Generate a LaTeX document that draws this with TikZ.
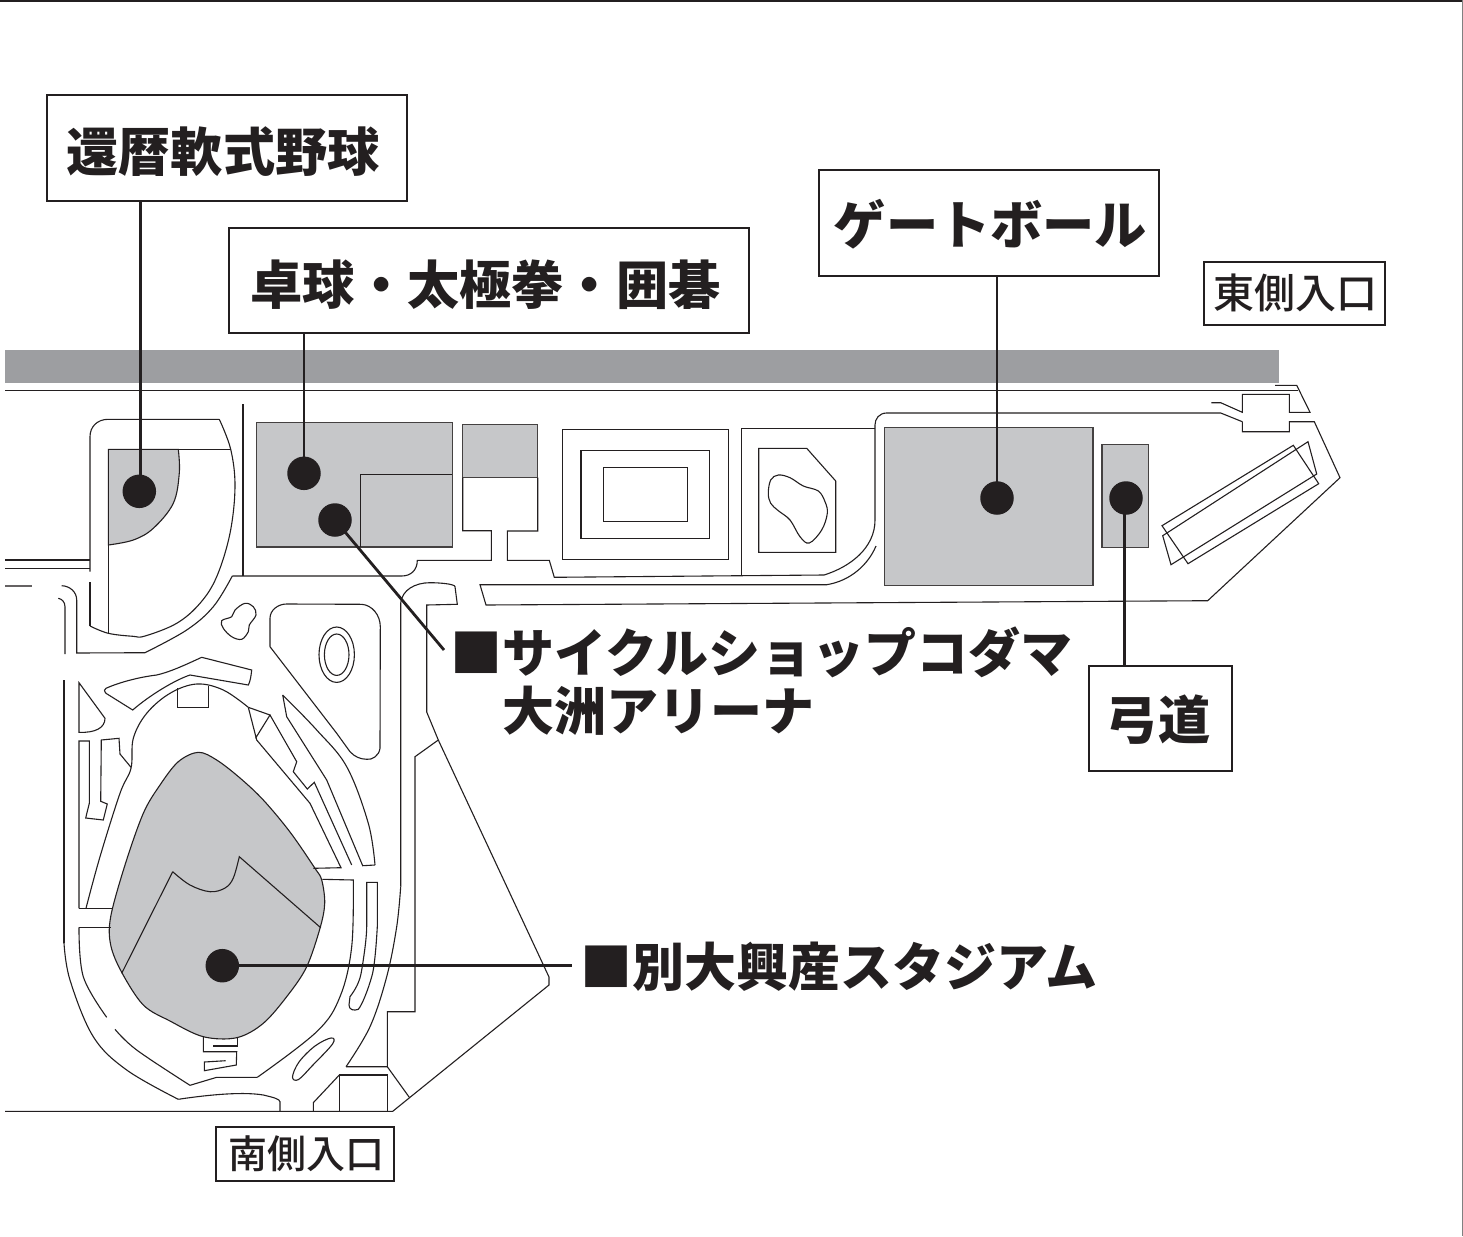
\documentclass[tikz,border=0pt]{standalone}
\usepackage{fontspec}
\newfontfamily\jp{Noto Sans CJK JP}
\newfontfamily\jpm{Noto Sans CJK JP Medium}
\definecolor{ink}{HTML}{231F20}
\definecolor{band}{HTML}{9D9EA1}
\definecolor{area}{HTML}{C6C7C9}
\newcommand{\nudged}[2]{\hspace*{#1}#2}
\tikzset{
  plan/.style={draw=ink,line width=1.1pt,line join=miter},
  zone/.style={draw=ink!85,line width=1.3pt,fill=area},
  dotmark/.style={circle,fill=ink,draw=none,inner sep=0pt,minimum size=33.5pt},
  link/.style={draw=ink,line width=2.8pt},
  bigbox/.style={draw=ink,line width=2pt,fill=white,inner sep=0pt,font=\jp\bfseries\fontsize{52.2}{60}\selectfont,text=ink,anchor=center,text depth=6pt},
  smallbox/.style={draw=ink,line width=2pt,fill=white,inner sep=0pt,font=\jpm\fontsize{41}{50}\selectfont,text=ink,anchor=center,text depth=5pt},
  caption/.style={inner sep=0pt,anchor=west,font=\jp\bfseries\fontsize{52}{60}\selectfont,text=ink},
}
\begin{document}
\begin{tikzpicture}[x=1pt,y=-1pt]
\useasboundingbox (0,0) rectangle (1463,1236);
% page edges
\fill[white] (0,0) rectangle (1463,1236);
\fill[ink] (0,0) rectangle (1463,2);
\fill[black!50] (1461.5,0) rectangle (1463,1236);
% road band
\fill[band] (5,350) rectangle (1279,383);
% gray areas
\draw[zone] (256.7,422.7) rectangle (452.3,547);
\draw[zone] (462.7,424.7) rectangle (537.7,477.5);
\draw[zone] (884.3,427.7) rectangle (1093,585.7);
\draw[zone] (1102,444.7) rectangle (1148.7,547.7);
\draw[plan,fill=area] plot[smooth,tension=0.6] coordinates {(178.3,449.3)(179.3,473)(173.3,503.3)(153.3,528.3)(133.3,540)(108.3,545)} -- (108.3,449.3) -- cycle;
\draw[plan,fill=area] plot[smooth cycle,tension=0.55] coordinates {(198.3,752.3)(178.3,761.7)(160,785)(143.3,813.3)(125,865)(110.7,916.7)(110.7,945)(121.7,972.3)(143.3,1005)(170,1021)(203.3,1036.7)(236.7,1037.7)(263.3,1023.3)(288,995)(306.7,966.7)(320,928.3)(324.7,903.3)(321.7,880)(315,868.3)(290,832)(263.3,800)(240,778)(216.7,760)};
\draw[plan] (121.7,973.3) -- (172.7,871.7) plot[smooth,tension=0.6] coordinates {(172.7,871.7)(190,885)(210,891.7)(225,888)(233.3,878)(239.3,856.7)} -- (320.7,927.7);
\draw[plan] (360.7,547) -- (360.7,474.3) -- (452.3,474.3);
% road edges
\draw[plan] (5,390.5) -- (1298,390.5);
\draw[plan] (1275,385.3) -- (1296.7,385.3) -- (1310,412.3) -- (1289.3,412.3) -- (1289.3,394.3) -- (1242.3,394.3) -- (1242.3,412.3) -- (1220.7,402.7) -- (1211.3,402.7);
\draw[plan] (1242.3,421.7) -- (1242.3,431.7) -- (1289.3,431.7) -- (1289.3,421.7) -- (1314.3,421.7) -- (1340,477.7) -- (1207.7,600.7) -- (486,605) -- (480,584.7) -- (826.7,584.7) .. controls (850,581) and (868,565) .. (876,546);
\draw[plan] (1242.3,421.7) -- (1220.7,413) -- (886.7,413) .. controls (879,413) and (875,419) .. (875,425) -- (875,520) .. controls (875,548) and (850,567) .. (824,575) -- (554.3,577.3) -- (549.3,560.3) -- (507.3,560.3) -- (507.3,531) -- (537.7,531) -- (537.7,477.5) (462.7,477.5) -- (462.7,530.7) -- (491.3,530.7) -- (491.3,560.3) -- (417.3,560.3) .. controls (417.3,570) and (411,576) .. (401.7,576) -- (232.3,576);
\draw[plan] plot[smooth,tension=0.6] coordinates {(232.3,576)(213.3,606.7)(186.7,630)(145,652.7)} -- (76.7,653) -- (76.7,600) .. controls (76.7,592) and (70,586) .. (61.7,585.7);
\draw[plan] (741.7,428.3) -- (875,428.3) (741.7,428.3) -- (741.7,575);
% tennis and pond
\draw[plan] (562.7,429.3) rectangle (728.7,559.3);
\draw[plan] (581,450.3) rectangle (709.3,538.7);
\draw[plan] (603.7,467.7) rectangle (687.7,521.3);
\draw[plan] (758.7,448.3) -- (806.7,448.3) -- (835.7,481) -- (835.7,552.3) -- (758.7,552.3) -- cycle;
\draw[plan] plot[smooth cycle,tension=0.6] coordinates {(778.3,475)(790,477.7)(803.3,486)(818.3,491)(825,501.7)(827.3,513.3)(821.7,530)(809.3,543)(800,536.7)(790,520)(778.3,510.7)(770.7,503.3)(768.3,493.3)(770.7,480)};
% archery
\draw[plan] (1162,525.7) -- (1293.3,445.3) -- (1318.7,483.7) -- (1188,563.7) -- cycle;
\draw[plan] (1162.7,535.7) -- (1308,441.7) -- (1316.7,474) -- (1171,564.7) -- cycle;
% softball
\draw[plan] (219.3,419.3) -- (108.3,419.3) .. controls (97,419.3) and (90,427) .. (90,436.7) -- (90,571.7);
\draw[plan] (90,582.3) -- (90,626);
\draw[plan] plot[smooth,tension=0.6] coordinates {(90,626)(108.3,633.3)(133,636.3)(145,636)(176.7,623.3)(200,603.3)(216.7,576.7)(230,533.3)(235,486.7)(230.7,449.3)(219.3,419.3)};
\draw[plan] (108.3,449.3) -- (230.7,449.3) (108.3,449.3) -- (108.3,633.3);
\draw[plan] (5,560) -- (90,560) (5,568.3) -- (90,568.3);
\draw[plan,draw=ink!70] (5,586) -- (32.3,586);
\draw[plan] (243,404.3) -- (243,576);
% mid blobs
\draw[plan] plot[smooth cycle,tension=0.6] coordinates {(245,603.3)(253.3,606.7)(256,615)(249.3,625)(248.3,631.7)(241.7,639.3)(231.7,636.7)(223.3,628.3)(221.7,620.7)(231.7,616.7)(235,610)};
\draw[plan] (270,646.7) -- (270,618.3) .. controls (270,610) and (278,604) .. (286.7,604) -- (361.7,604.3) .. controls (372,605) and (380.3,615) .. (380.3,626.7) -- (380,748.3) .. controls (379,756) and (372,760) .. (366.7,759.3) .. controls (360,759) and (355,757) .. (350,751.7) -- (336.7,733.3) -- (270,646.7);
\draw[plan] (336.7,654.7) ellipse [x radius=17.7,y radius=27.7];
\draw[plan] (336.7,654.7) ellipse [x radius=12.3,y radius=20.7];
% east column
\draw[plan] (400.7,886.7) -- (400.7,603) .. controls (402,590) and (415,582.7) .. (430,582.7) .. controls (440,582.7) and (455,584) .. (455,586.7) -- (457.3,604.3) -- (426.7,605) -- (426.7,712) -- (438.3,740) -- (549,977) -- (549,985) -- (392.7,1111.3) -- (5,1111.3);
\draw[plan] (438.3,740) -- (415,756.7) -- (415,1011.7) -- (387.3,1011.7) -- (387.3,1066.7) -- (346,1066.7);
\draw[plan] (387.3,1066.7) -- (409.3,1097.3);
\draw[plan] plot[smooth,tension=0.6] coordinates {(400.7,886.7)(396.7,926.7)(386.7,976.7)(370,1026.7)(346,1066.7)};
% west column
\draw[plan] (58.3,598.3) .. controls (62,599) and (65,602) .. (65,606.7) -- (65,654);
\draw[plan] (64,680) -- (64,943);
\draw[plan] plot[smooth,tension=0.6] coordinates {(64,943)(70,980)(93.3,1036.7)(126.7,1070)(178.3,1099.3)};
\draw[plan] (178.3,1099.3) .. controls (200,1096) and (240,1091) .. (263.3,1095) .. controls (272,1097) and (280,1099) .. (280,1101.7) -- (280,1111.3);
\draw[plan] (79,682.7) -- (105,718.3) .. controls (105,728) and (95,733) .. (79,732.3) -- cycle;
\draw[plan] (79,908.3) -- (79,741) -- (89.3,741) -- (89.3,803.3) -- (85.7,818) -- (103.3,820) -- (107.3,804) -- (100.7,801.3) -- (101.3,740) -- (119,738.3) -- (120,754) -- (131,767.3);
\draw[plan] (79,908.3) -- (113.3,908.3) (79,927.3) -- (110.7,927.3);
\draw[plan] plot[smooth,tension=0.6] coordinates {(79,927.3)(83.3,976.7)(106.7,1017.3)};
\draw[plan] plot[smooth,tension=0.6] coordinates {(115,1029.3)(136.7,1050)(190,1085.3)} -- (216.7,1077.3) -- (257.3,1077.3);
\draw[plan] plot[smooth,tension=0.6] coordinates {(257.3,1077.3)(316.7,1031.7)(340,996.7)(351.7,946.7)(353.3,880)} -- (322.3,879.3);
% stadium surround
\draw[plan] plot[smooth,tension=0.6] coordinates {(86,908.3)(100,856.7)(120,793.3)(131,768.3)(133.3,738.3)(146.7,713.3)(170,693.3)(196.7,684)(223.3,690)(248.3,707.3)};
\draw[plan] (248.3,707.3) -- (270,715) -- (255.5,738.3) (248.3,707.3) -- (256.7,740) -- (310,803.3) -- (341,867.7) -- (313.3,868.3);
\draw[plan] (270,715) -- (296.7,761.7) -- (293.3,771.7) -- (307.3,789) -- (314.3,782.3) -- (351.7,865);
\draw[plan] (282.7,695) -- (286.7,716.7) -- (326.7,780) -- (362.7,865.7) -- (375,865) plot[smooth,tension=0.6] coordinates {(375,865)(368.3,823.3)(346.7,766.7)(316.7,730)(282.7,695)};
\draw[plan] (366.7,882.3) -- (377.3,882.3) -- (377.3,926.7) .. controls (376,950) and (374,970) .. (371.7,976.7) .. controls (368,990) and (362,1005) .. (358.3,1009.3) .. controls (354,1011) and (349,1010) .. (349,1005) -- (350,996.7) .. controls (355,990) and (360,982) .. (361.7,970) .. controls (365,950) and (366.7,935) .. (366.7,926.7) -- cycle;
\draw[plan] plot[smooth cycle,tension=0.6] coordinates {(331,1038)(332.5,1044)(312,1066)(298.5,1079.5)(292.5,1077)(299,1062)(315,1046)};
\draw[plan] (177.3,688.3) -- (177.3,707.7) -- (208.3,707.7) -- (208.3,686);
\draw[plan] (201.7,657.3) -- (251.7,670) .. controls (251,677) and (250,682) .. (248.3,685) -- (190,675) .. controls (175,680) and (150,695) .. (132.7,710) -- (106,693.3) .. controls (104,691) and (104,689) .. (106,688.3) .. controls (120,682) and (140,677) .. (156.7,675) .. controls (170,672) and (185,665) .. (201.7,657.3);
\draw[plan] (339.3,1111.3) -- (339.3,1075) -- (387.3,1075) -- (387.3,1111.3);
\draw[plan] (339.3,1075) -- (313.3,1102.7) -- (313.3,1111.3);
\draw[plan] (203.3,1037) -- (203.3,1051.7) -- (236.7,1051.7) -- (236.3,1065) -- (204.3,1070.7) -- (204.3,1062) -- (225.7,1060.7);
\draw[plan] (213,1046) -- (237.7,1046) -- (237.7,1037);
% label boxes
\node[bigbox,minimum width=360pt,minimum height=106pt,text height=52pt] (b1) at (227,148) {\nudged{-8pt}{還暦軟式野球}};
\node[bigbox,minimum width=520pt,minimum height=105pt,text height=54pt] (b2) at (489,280.5) {\nudged{-7pt}{卓球・太極拳・囲碁}};
\node[bigbox,minimum width=340pt,minimum height=106pt,text height=48pt] (b3) at (989,223) {\nudged{3pt}{ゲートボール}};
\node[bigbox,minimum width=143pt,minimum height=105pt,text height=47pt] (b4) at (1160.5,718.5) {\nudged{-5pt}{弓道}};
\node[smallbox,minimum width=181pt,minimum height=63pt,text height=34.2pt] (b5) at (1294.5,293.5) {\nudged{1pt}{東側入口}};
\node[smallbox,minimum width=178pt,minimum height=54pt,font=\jpm\fontsize{39}{48}\selectfont,text height=33.6pt] (b6) at (305,1154) {\nudged{3pt}{南側入口}};
% captions
\node[caption] (t1) at (450.5,652) {■サイクルショップコダマ};
\node[caption] (t2) at (502,711) {大洲アリーナ};
\node[caption] (t3) at (580.5,967) {■別大興産スタジアム};
% dots and connectors
\node[dotmark] (d1) at (139.3,491.3) {};
\node[dotmark] (d2) at (304,473.3) {};
\node[dotmark] (d3) at (335,520) {};
\node[dotmark] (d4) at (997,498) {};
\node[dotmark] (d5) at (1126,498) {};
\node[dotmark] (d6) at (222.3,965.7) {};
\coordinate (e3) at (444,650);
\coordinate (e6) at (572,965.7);
\draw[link] ([xshift=1pt]d1.center) -- ([xshift=1pt]d1.center |- b1.south);
\draw[link] (d2.center) -- (d2.center |- b2.south);
\draw[link] (d3.center) -- (e3);
\draw[link] (d4.center) -- (d4.center |- b3.south);
\draw[link] ([xshift=-1.5pt]d5.center) -- ([xshift=-1.5pt]d5.center |- b4.north);
\draw[link] (d6.center) -- (e6);
\end{tikzpicture}
\end{document}
